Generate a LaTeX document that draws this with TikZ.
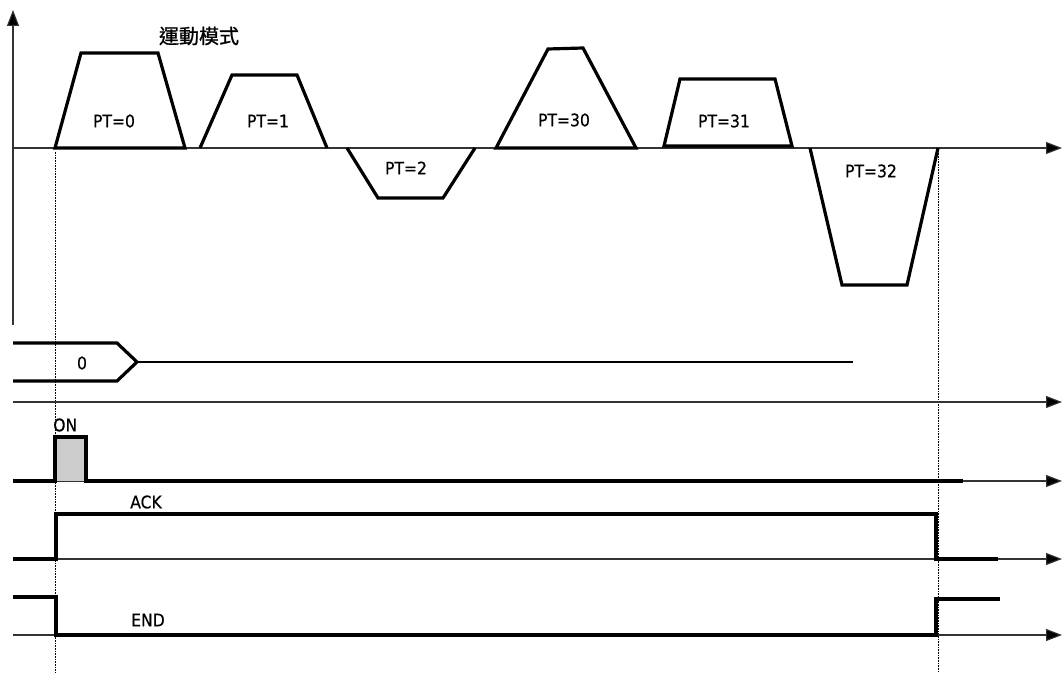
\documentclass[tikz,border=0pt]{standalone}
\usepackage{fontspec}
\setmainfont{DejaVu Sans Condensed}
\newfontfamily\lblfont{DejaVu Sans Condensed}[UprightFeatures={FakeBold=0.4}]
\newfontfamily\cjk{Noto Sans CJK TC}[UprightFeatures={FakeBold=1.0}]
\usetikzlibrary{arrows.meta}
\tikzset{
  axis/.style={line width=0.8pt, draw=black!80, -{Triangle[length=12pt,width=9pt,fill=black]}},
  sig/.style={line width=2.4pt, line join=miter, line cap=butt},
  prof/.style={line width=2.4pt, line join=miter},
  guide/.style={line width=0.6pt, dash pattern=on 1.2pt off 0.8pt},
  lbl/.style={font=\lblfont\fontsize{13}{15}\selectfont, inner sep=0pt},
}
\begin{document}
\begin{tikzpicture}[x=0.75pt,y=-0.75pt]
\useasboundingbox (0,0) rectangle (1062,673);
% axes
\coordinate (yb) at (13,325); \coordinate (yt) at (13,10);
\draw[axis] (yb) -- (yt);
\coordinate (a0l) at (13,148); \coordinate (a0r) at (1062,148);
\draw[axis] (a0l) -- (a0r);
% guides
\coordinate (g1t) at (55,152); \coordinate (g1b) at (55,673);
\coordinate (g2t) at (938,148); \coordinate (g2b) at (938,673);
\draw[guide] (g1t) -- (g1b);
\draw[guide] (g2t) -- (g2b);
% profiles
\draw[prof] (55,148) -- (81,53) -- (158,53) -- (185,148) -- cycle;
\node[lbl] (pt0) at (114,121) {PT=0};
\draw[prof] (200,148) -- (232,75) -- (297,75) -- (327,148);
\node[lbl] (pt1) at (268,121) {PT=1};
\draw[prof] (347,148) -- (378,198) -- (443,198) -- (475,148);
\node[lbl] (pt2) at (406,168) {PT=2};
\draw[prof] (496,148) -- (548,49) -- (583,48) -- (636,148) -- cycle;
\node[lbl] (pt30) at (564,120) {PT=30};
\draw[prof] (664,146) -- (680,79) -- (775,79) -- (792,146) -- cycle;
\node[lbl] (pt31) at (724,121) {PT=31};
\draw[prof] (810,148) -- (842,285) -- (907,285) -- (938,148);
\node[lbl] (pt32) at (871,171) {PT=32};
\node[inner sep=0pt, font=\cjk\fontsize{15}{17}\selectfont] (title) at (199,36) {運動模式};
% bus
\draw[sig] (13,343) -- (117,343) -- (137,362) -- (117,381) -- (13,381);
\coordinate (busa) at (137,362); \coordinate (busb) at (853,362);
\draw[line width=0.8pt] (busa) -- (busb);
\node[lbl] (v0) at (82,363) {0};
\coordinate (a1l) at (13,402); \coordinate (a1r) at (1062,402);
\draw[axis] (a1l) -- (a1r);
% ON pulse
\coordinate (a2l) at (13,481); \coordinate (a2r) at (1062,481);
\draw[axis] (a2l) -- (a2r);
\fill[black!20] (55,437) rectangle (86,481);
\draw[sig] (13,481) -- (55,481) -- (55,437) -- (86,437) -- (86,481) -- (963,481);
\node[lbl, anchor=west] (on) at (53,425) {ON};
% ACK
\coordinate (a3l) at (13,559); \coordinate (a3r) at (1062,559);
\draw[axis] (a3l) -- (a3r);
\draw[sig] (13,559) -- (56,559) -- (56,514) -- (936,514) -- (936,559) -- (998,559);
\node[lbl] (ack) at (146,502) {ACK};
% END
\coordinate (a4l) at (13,635); \coordinate (a4r) at (1062,635);
\draw[axis] (a4l) -- (a4r);
\draw[sig] (13,597) -- (56,597) -- (56,635) -- (936,635) -- (936,599) -- (1000,599);
\node[lbl] (end) at (148,620) {END};
\end{tikzpicture}
\end{document}
